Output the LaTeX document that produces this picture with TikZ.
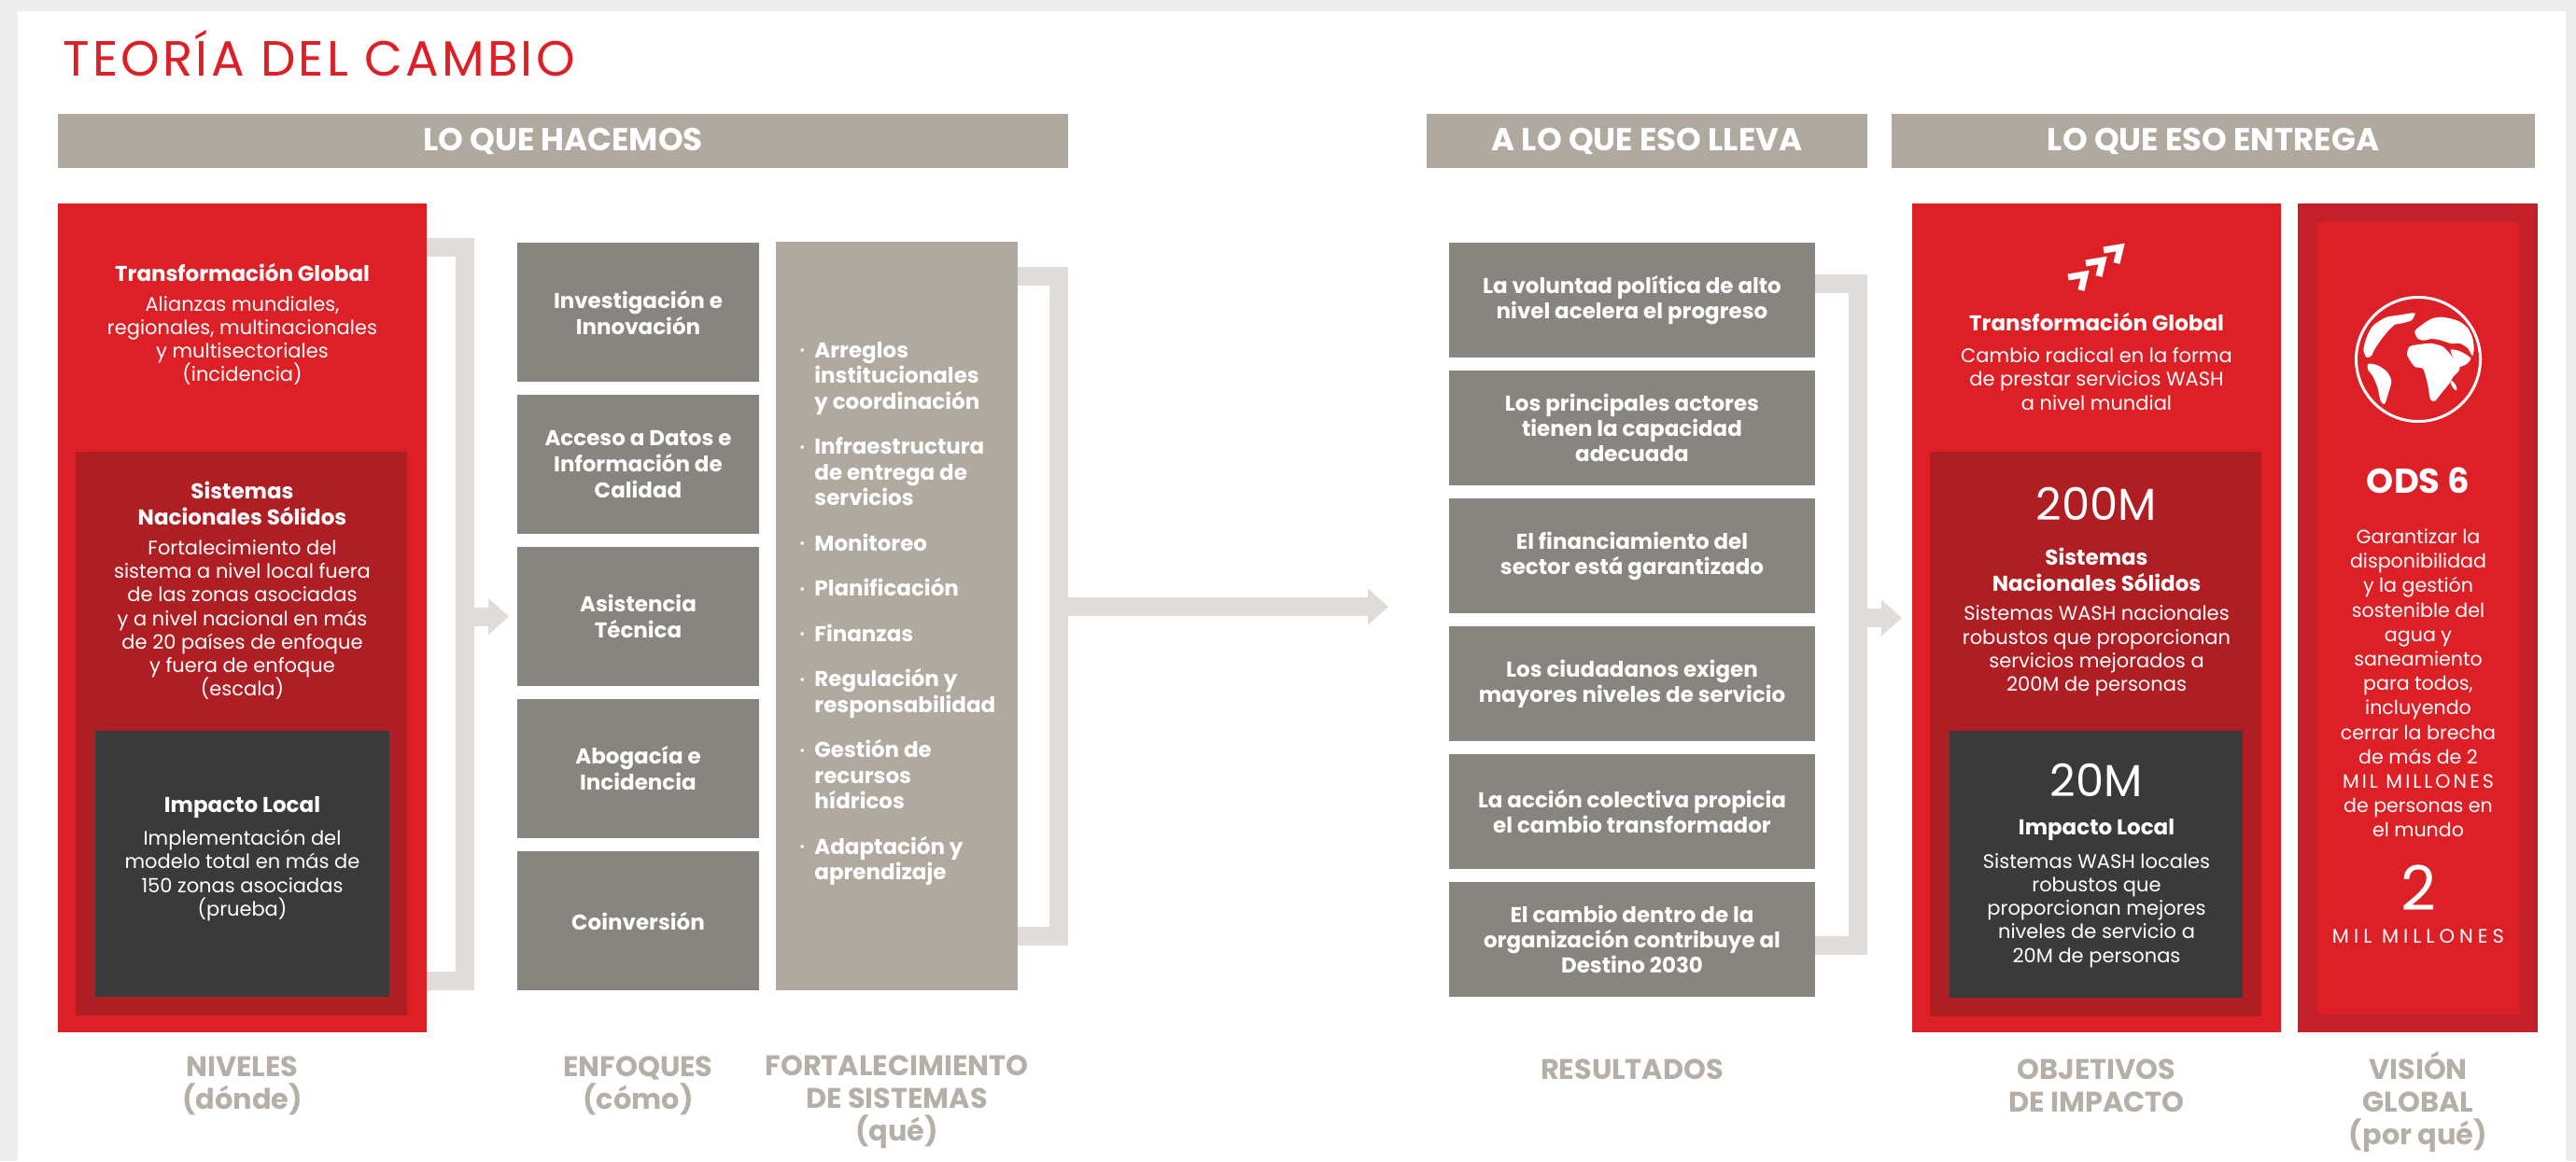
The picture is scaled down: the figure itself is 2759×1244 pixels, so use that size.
\documentclass[tikz,border=0pt]{standalone}
\usepackage{fontspec}
\setmainfont{Poppins}
\usetikzlibrary{positioning, arrows.meta}
\definecolor{tocred}{HTML}{DD1F26}
\definecolor{tocdark}{HTML}{AE1E23}
\definecolor{tocvis}{HTML}{C3202A}
\definecolor{coal}{HTML}{3A3A3A}
\definecolor{hdrgray}{HTML}{AFA99F}
\definecolor{boxgray}{HTML}{888480}
\definecolor{linegray}{HTML}{E0DCD9}
\definecolor{lblgray}{HTML}{B5AFA8}
\definecolor{pagegray}{HTML}{EDEDED}
\newcommand{\fbul}{{\fontsize{6}{6}\selectfont\raisebox{1.8pt}{•}}}

\begin{document}
\begin{tikzpicture}[x=0.5pt, y=-0.5pt,
  blk/.style={inner sep=0pt, outer sep=0pt},
  hdr/.style={blk, fill=hdrgray, text=white, minimum height=29pt, font=\fontsize{17}{19}\selectfont\bfseries},
  enf/.style={blk, fill=boxgray, text=white, align=center, minimum width=129.5pt, minimum height=74.5pt, font=\fontsize{11.5}{14}\selectfont\bfseries},
  res/.style={enf, minimum width=196pt, minimum height=61.5pt, font=\fontsize{11.5}{13.5}\selectfont\bfseries},
  hd/.style={text=white, align=center, inner sep=0pt, font=\fontsize{11.5}{14}\selectfont\bfseries},
  txt/.style={text=white, align=center, inner sep=0pt, font=\fontsize{10.5}{12.6}\selectfont},
  big/.style={text=white, inner sep=0pt, font=\fontsize{24}{26}\selectfont},
  lbl/.style={text=lblgray, align=center, inner sep=0pt, font=\fontsize{15.2}{17.5}\selectfont\bfseries},
  bracket/.style={draw=linegray, line width=10pt},
  arr/.style={draw=linegray, line width=10pt, -{Triangle[length=11pt, width=19pt]}}
]
\useasboundingbox (0,0) rectangle (2759,1244);
\fill[pagegray] (0,0) rectangle (2759,1244);
\fill[white] (19,12) rectangle (2748,1244);

\node (ttl) [anchor=base west, inner sep=0pt, text=tocred, font=\fontsize{26.5}{28}\selectfont\addfontfeature{LetterSpace=6}] at (67,81) {TEORÍA DEL CAMBIO};

\node (h1) [hdr, minimum width=541pt] at (603,151) {LO QUE HACEMOS};
\node (h2) [hdr, minimum width=236pt] at (1764,151) {A LO QUE ESO LLEVA};
\node (h3) [hdr, minimum width=344.5pt] at (2370.5,151) {LO QUE ESO ENTREGA};

\node (niv) [blk, fill=tocred, minimum width=197.5pt, minimum height=444pt] at (259.5,662) {};
\node (nivs) [blk, fill=tocdark, minimum width=177.5pt, minimum height=302pt] at (258.5,786) {};
\node (nivl) [blk, fill=coal, minimum width=157.5pt, minimum height=142.5pt] at (259.5,925.5) {};
\node (n1) [hd] at (259.5,292) {Transformación Global};
\node (n1t) [txt] at (259.5,365) {Alianzas mundiales,\\regionales, multinacionales\\y multisectoriales\\(incidencia)};
\node (n2) [hd] at (259.5,539) {Sistemas\\Nacionales Sólidos};
\node (n2t) [txt] at (259.5,664) {Fortalecimiento del\\sistema a nivel local fuera\\de las zonas asociadas\\y a nivel nacional en más\\de 20 países de enfoque\\y fuera de enfoque\\(escala)};
\node (n3) [hd] at (259.5,865) {Impacto Local};
\node (n3t) [txt] at (259.5,938) {Implementación del\\modelo total en más de\\150 zonas asociadas\\(prueba)};

\node (inv) [enf] at (683.5,334.5) {Investigación e\\Innovación};
\node (dat) [enf, below=7pt of inv] {Acceso a Datos e\\Información de\\Calidad};
\node (tec) [enf, below=7pt of dat] {Asistencia\\Técnica};
\node (abo) [enf, below=7pt of tec] {Abogacía e\\Incidencia};
\node (coi) [enf, below=7pt of abo] {Coinversión};

\node (fort) [blk, fill=hdrgray, minimum width=129.5pt, minimum height=401pt] at (960.5,660) {};
\node (fl) [anchor=west, inner sep=0pt, text=white, font=\fontsize{11.5}{13.75}\selectfont\bfseries] at (856,657.5) {%
\begin{tabular}{@{}l@{\hspace{5pt}}l@{}}
\fbul & Arreglos\\ & institucionales\\ & y coordinación\\[10.5pt]
\fbul & Infraestructura\\ & de entrega de\\ & servicios\\[10.5pt]
\fbul & Monitoreo\\[10.5pt]
\fbul & Planificación\\[10.5pt]
\fbul & Finanzas\\[10.5pt]
\fbul & Regulación y\\ & responsabilidad\\[10.5pt]
\fbul & Gestión de\\ & recursos\\ & hídricos\\[10.5pt]
\fbul & Adaptación y\\ & aprendizaje
\end{tabular}};

\node (r1) [res] at (1748,321.5) {La voluntad política de alto\\nivel acelera el progreso};
\node (r2) [res, below=7pt of r1] {Los principales actores\\tienen la capacidad\\adecuada};
\node (r3) [res, below=7pt of r2] {El financiamiento del\\sector está garantizado};
\node (r4) [res, below=7pt of r3] {Los ciudadanos exigen\\mayores niveles de servicio};
\node (r5) [res, below=7pt of r4] {La acción colectiva propicia\\el cambio transformador};
\node (r6) [res, below=7pt of r5] {El cambio dentro de la\\organización contribuye al\\Destino 2030};

\node (obj) [blk, fill=tocred, minimum width=197.5pt, minimum height=444pt] at (2245.5,662) {};
\node (objs) [blk, fill=tocdark, minimum width=177.5pt, minimum height=302.5pt] at (2244,786.5) {};
\node (objl) [blk, fill=coal, minimum width=157pt, minimum height=143pt] at (2245,926) {};
\draw[white, line width=3.5pt] (2215,297) -- (2233,294) -- (2229,311);
\draw[white, line width=3.5pt] (2234,282) -- (2252,279) -- (2248,296);
\draw[white, line width=3.5pt] (2253,268) -- (2271,265) -- (2267,282);
\node (o1) [hd] at (2245.5,345) {Transformación Global};
\node (o1t) [txt] at (2245.5,406) {Cambio radical en la forma\\de prestar servicios WASH\\a nivel mundial};
\node (o2n) [big, anchor=base] at (2245.5,557) {200M};
\node (o2) [hd] at (2245.5,610) {Sistemas\\Nacionales Sólidos};
\node (o2t) [txt] at (2245.5,697.5) {Sistemas WASH nacionales\\robustos que proporcionan\\servicios mejorados a\\200M de personas};
\node (o3n) [big, anchor=base] at (2245.5,853) {20M};
\node (o3) [hd] at (2245.5,889) {Impacto Local};
\node (o3t) [txt] at (2245.5,975.5) {Sistemas WASH locales\\robustos que\\proporcionan mejores\\niveles de servicio a\\20M de personas};

\node (vis) [blk, fill=tocvis, minimum width=128.5pt, minimum height=444pt] at (2589.5,662) {};
\node (visi) [blk, fill=tocred, minimum width=108pt, minimum height=424.5pt] at (2590,662.5) {};
\begin{scope}[shift={(2590,385)}]
\draw[white, line width=1.5pt] (0,0) circle[radius=33.25pt];
\fill[white] plot[smooth cycle, tension=0.4] coordinates {(-9.3,-13.7) (3,-16.3) (14.7,-17) (26.3,-13.7) (33,-7) (39.7,1.3) (44.7,8) (43,13) (38,18) (33,26.3) (24.7,36.3) (18,44.7) (13,43) (10.7,29.7) (8,18) (4.7,9.7) (-3.7,8) (-8.7,1.3) (-12,-5.3)};
\fill[white] plot[smooth cycle, tension=0.4] coordinates {(34.7,-10.3) (44.7,-8.7) (56.3,-1.3) (51.3,5.3) (43,8) (38,-0.3)};
\fill[white] plot[smooth cycle, tension=0.4] coordinates {(-3.7,-30.3) (6.3,-38.7) (14.7,-43.7) (24.7,-45.3) (34.7,-43.7) (44.7,-40.3) (53,-33.7) (58,-23.7) (59.7,-12) (58,-3.7) (53,-12) (44.7,-17) (34.7,-17) (24.7,-20.3) (14.7,-22) (6.3,-20.3) (-0.3,-22)};
\fill[white] plot[smooth cycle, tension=0.4] coordinates {(-45.3,-38.7) (-33.7,-45.3) (-18.7,-47.7) (-3.7,-49.7) (-7,-42) (-17,-38.7) (-25.3,-37) (-33.7,-28.7) (-40.3,-20.3) (-47,-10.3) (-50.3,-3.7) (-55.3,-2) (-58.7,-10.3) (-55.3,-23.7) (-50.3,-33.7)};
\fill[white] plot[smooth cycle, tension=0.4] coordinates {(-53.7,4.7) (-43.7,6.3) (-33.7,13) (-28.7,23) (-32,36.3) (-36,48) (-40.3,44.7) (-43.7,29.7) (-48.7,18) (-53.7,11.3)};
\fill[white, rotate around={-60:(38,28)}] (38,28) ellipse[x radius=3pt, y radius=1pt];
\end{scope}
\node (ods) [anchor=base, inner sep=0pt, text=white, font=\fontsize{18.5}{20}\selectfont\bfseries] at (2590,528) {ODS 6};
\node (vt) [txt, font=\fontsize{10.3}{13.1}\selectfont] at (2590,732) {Garantizar la\\disponibilidad\\y la gestión\\sostenible del\\agua y\\saneamiento\\para todos,\\incluyendo\\cerrar la brecha\\de más de 2\\{\addfontfeature{LetterSpace=15}MIL MILLONES}\\de personas en\\el mundo};
\node (dos) [anchor=base, inner sep=0pt, text=white, font=\fontsize{33}{36}\selectfont] at (2590,975) {2};
\node (mil) [txt, font=\fontsize{10.5}{12}\selectfont\addfontfeature{LetterSpace=24}] at (2590,1003) {MIL MILLONES};

\draw[bracket] (niv.east |- 0,265) -- (498,265) -- (498,1051) -- (niv.east |- 0,1051);
\draw[arr, shorten >=4.5pt] (tec.west -| 498,0) -- (tec.west);
\coordinate (t2) at (1487,650);
\draw[bracket] (fort.east |- 0,296) -- (1134,296) -- (1134,1003) -- (fort.east |- 0,1003);
\draw[arr] (t2 -| 1134,0) -- (t2);
\draw[bracket] (r1.east |- 0,304) -- (1990,304) -- (1990,1013) -- (r6.east |- 0,1013);
\draw[arr, shorten >=5.5pt] (obj.west -| 1990,0) -- (obj.west);

\node (l1) [lbl] at (259.5,1163.5) {NIVELES\\(dónde)};
\node (l2) [lbl] at (683.5,1163.5) {ENFOQUES\\(cómo)};
\node (l3) [lbl] at (960.5,1181) {FORTALECIMIENTO\\DE SISTEMAS\\(qué)};
\node (l4) [lbl] at (1748,1146) {RESULTADOS};
\node (l5) [lbl] at (2245.5,1163) {OBJETIVOS\\DE IMPACTO};
\node (l6) [lbl] at (2590,1181) {VISIÓN\\GLOBAL\\(por qué)};
\end{tikzpicture}
\end{document}
